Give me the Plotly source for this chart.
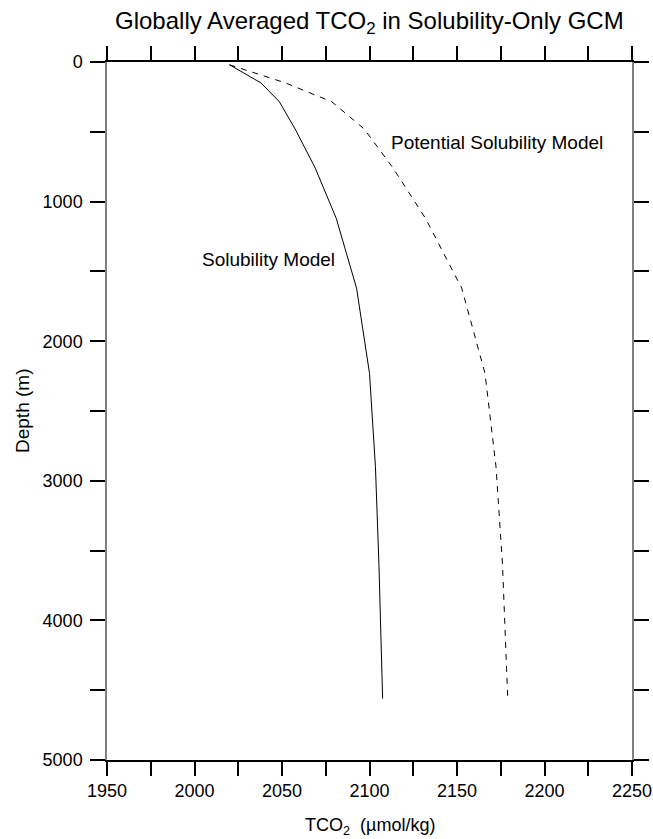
import plotly.graph_objects as go

depth = [20, 150, 285, 480, 760, 1120, 1620, 2230, 2900, 3600, 4560]
solubility = [2020, 2038, 2048.5, 2057.5, 2069, 2081, 2092.6, 2100, 2103.4, 2105.4, 2107.5]
potential = [2020, 2052, 2078.5, 2097, 2113.5, 2132, 2152.7, 2166, 2172.3, 2176, 2179]

x_tickvals = list(range(1950, 2251, 25))
x_ticktext = [str(v) if v % 50 == 0 else "" for v in x_tickvals]
y_tickvals = list(range(0, 5001, 500))
y_ticktext = [str(v) if v % 1000 == 0 else "" for v in y_tickvals]

font = "Arial, Liberation Sans, Helvetica, sans-serif"

fig = go.Figure()
fig.add_trace(go.Scatter(x=solubility, y=depth, mode="lines",
                         line=dict(color="black", width=1), showlegend=False))
fig.add_trace(go.Scatter(x=potential, y=depth, mode="lines",
                         line=dict(color="black", width=1, dash="6px,6px"), showlegend=False))

fig.add_annotation(x=2042, y=1416, text="Solubility Model", showarrow=False,
                   font=dict(size=19, color="black", family=font))
fig.add_annotation(x=2173, y=580, text="Potential Solubility Model", showarrow=False,
                   font=dict(size=19, color="black", family=font))

fig.add_annotation(xref="paper", yref="paper", x=0.5, y=1, yshift=40,
                   text="Globally Averaged TCO<sub>2</sub> in Solubility-Only GCM",
                   showarrow=False, font=dict(size=24, color="black", family=font),
                   yanchor="middle")
fig.add_annotation(xref="paper", yref="paper", x=0.5, y=0, yshift=-66,
                   text="TCO<sub>2</sub>&nbsp;&nbsp;(µmol/kg)", showarrow=False,
                   font=dict(size=18, color="black", family=font), yanchor="middle")
fig.add_annotation(xref="paper", yref="paper", x=0, xshift=-85, y=0.5,
                   text="Depth (m)", textangle=-90, showarrow=False,
                   font=dict(size=19, color="black", family=font), xanchor="center")

fig.update_layout(
    width=653, height=839,
    margin=dict(l=107, r=21, t=62, b=79),
    plot_bgcolor="white", paper_bgcolor="white",
    font=dict(family=font, size=18, color="black"),
    xaxis=dict(range=[1950, 2250], tickvals=x_tickvals, ticktext=x_ticktext,
               ticks="outside", ticklen=14, tickwidth=1.5, tickcolor="black",
               showline=True, linecolor="black", linewidth=1.5, mirror="ticks",
               showgrid=False, zeroline=False, automargin=False,
               tickfont=dict(size=18)),
    yaxis=dict(range=[5000, 0], tickvals=y_tickvals, ticktext=y_ticktext,
               ticks="outside", ticklen=15, tickwidth=1.5, tickcolor="black",
               showline=True, linecolor="#808080", linewidth=1.5, mirror="ticks",
               showgrid=False, zeroline=False, ticklabelstandoff=4, automargin=False,
               tickfont=dict(size=18)),
)

fig.write_html("out.html")
